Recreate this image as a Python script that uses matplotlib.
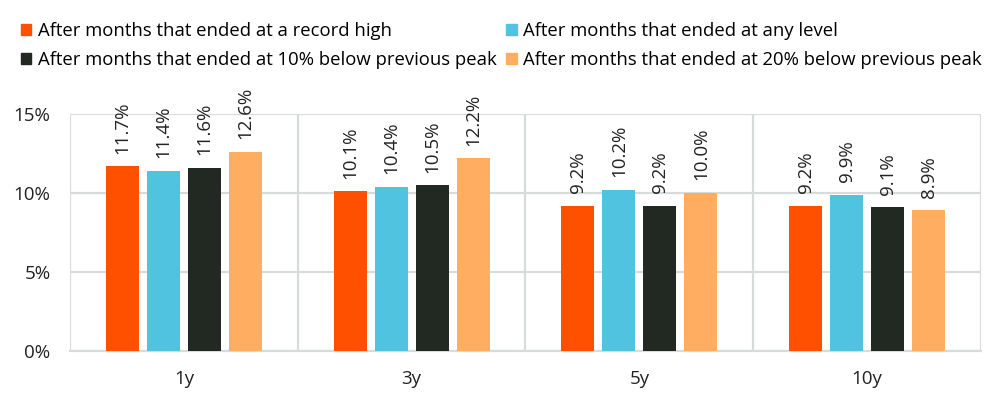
import numpy as np
import matplotlib
matplotlib.use("Agg")
import matplotlib.pyplot as plt
from matplotlib.patches import Patch

plt.rcParams['font.family'] = ['Open Sans', 'DejaVu Sans']

periods = ["1y", "3y", "5y", "10y"]
series_names = [
    "After months that ended at a record high",
    "After months that ended at any level",
    "After months that ended at 10% below previous peak",
    "After months that ended at 20% below previous peak",
]
record_high = [11.7, 10.1, 9.2, 9.2]
any_level = [11.4, 10.4, 10.2, 9.9]
below_10 = [11.6, 10.5, 9.2, 9.1]
below_20 = [12.6, 12.2, 10.0, 8.9]
colors = ["#FF5000", "#4FC3DF", "#222822", "#FFAD60"]

all_series = [record_high, any_level, below_10, below_20]
grid_col = "#D8DCD8"

fig = plt.figure(figsize=(10.04, 4.13), dpi=100)
ax = fig.add_axes([70 / 1004, 62 / 413, 911 / 1004, 237 / 413])

x = np.arange(len(periods))
step, width = 0.18, 0.145
for i, (vals, col) in enumerate(zip(all_series, colors)):
    pos = x + (i - 1.5) * step
    bars = ax.bar(pos, vals, width=width, color=col, zorder=3)
    for b, v in zip(bars, vals):
        ax.annotate(f"{v:.1f}%", (b.get_x() + b.get_width() / 2, v),
                    xytext=(0, 9), textcoords="offset points",
                    rotation=90, ha="center", va="bottom",
                    fontsize=13.5, color="#222222", zorder=4)

ax.set_xlim(-0.5, 3.5)
ax.set_ylim(0, 15)
ax.set_yticks([0, 5, 10, 15])
ax.set_yticklabels([f"{t}%" for t in [0, 5, 10, 15]])
ax.set_xticks(x)
ax.set_xticklabels(periods)
ax.set_xticks(np.arange(-0.5, 4, 1), minor=True)
ax.tick_params(axis="both", which="both", length=0, labelsize=13.5, colors="#222222")
ax.tick_params(axis="x", pad=14)
ax.tick_params(axis="y", pad=14)
ax.grid(axis="y", which="major", color=grid_col, lw=1.6, zorder=0)
ax.grid(axis="x", which="minor", color=grid_col, lw=1.6, zorder=0)
for s in ax.spines.values():
    s.set_visible(False)
ax.spines["bottom"].set_visible(True)
ax.spines["bottom"].set_color(grid_col)
ax.spines["bottom"].set_linewidth(1.6)

# legend is filled row by row in the original, matplotlib fills columns
order = [0, 2, 1, 3]
handles = [Patch(color=colors[k]) for k in order]
labels = [series_names[k] for k in order]
fig.legend(handles, labels, ncol=2, loc="upper left",
           bbox_to_anchor=(0.008, 0.978), frameon=False, fontsize=13.3,
           handlelength=0.55, handleheight=0.55, handletextpad=0.35,
           columnspacing=0.55, labelspacing=0.58, borderpad=0.2)

fig.savefig("out.png", dpi=100)
